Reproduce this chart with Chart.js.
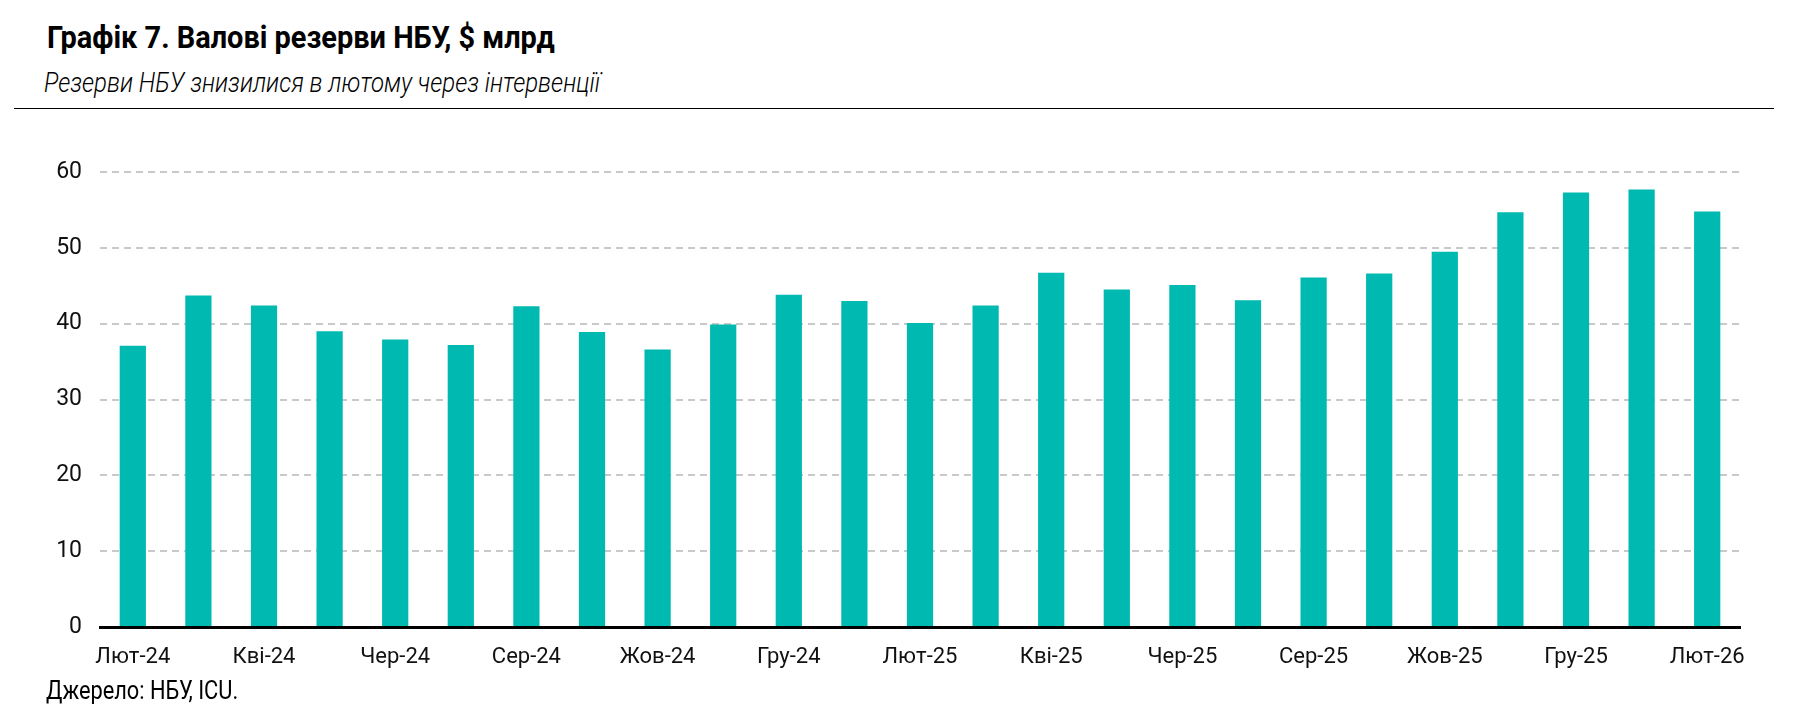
<!DOCTYPE html>
<html>
<head>
  <meta charset="utf-8">
  <title>Графік 7</title>
  <style>
    body { margin: 0; background: #fff; }
    #wrap { position: relative; width: 1814px; height: 727px; overflow: hidden; }
    .txt {
      position: absolute;
      white-space: nowrap;
      line-height: 1;
      color: #000;
      font-family: Roboto, "DejaVu Sans", sans-serif;
      transform-origin: 0 0;
    }
    #title { left: 47px; top: 21px; font-size: 32px; font-weight: bold; }
    #subtitle { left: 44px; top: 70px; font-size: 27px; font-style: italic; font-weight: 300; }
    #rule { position: absolute; left: 14px; top: 108px; width: 1760px; height: 1px; background: #000; }
    #source { left: 46px; top: 677px; font-size: 26px; }
    #chart { position: absolute; left: 0; top: 0; }
  </style>
  <script src="https://cdn.jsdelivr.net/npm/chart.js"></script>
</head>
<body>
  <div id="wrap">
    <div class="txt" id="title" data-w="508">Графік 7. Валові резерви НБУ, $ млрд</div>
    <div class="txt" id="subtitle" data-w="556">Резерви НБУ знизилися в лютому через інтервенції</div>
    <div id="rule"></div>
    <canvas id="chart" width="1814" height="727"></canvas>
    <div class="txt" id="source" data-w="192">Джерело: НБУ, ICU.</div>
  </div>

  <script>
    // місяці, лют-24 .. лют-26
    const months = [
      'Лют-24', 'Бер-24', 'Кві-24', 'Тра-24', 'Чер-24', 'Лип-24', 'Сер-24', 'Вер-24',
      'Жов-24', 'Лис-24', 'Гру-24', 'Січ-25', 'Лют-25', 'Бер-25', 'Кві-25', 'Тра-25',
      'Чер-25', 'Лип-25', 'Сер-25', 'Вер-25', 'Жов-25', 'Лис-25', 'Гру-25', 'Січ-26', 'Лют-26'
    ];
    // валові резерви, $ млрд
    const reserves = [
      37.1, 43.7, 42.4, 39.0, 37.9, 37.2, 42.3, 38.9,
      36.6, 39.9, 43.8, 43.0, 40.1, 42.4, 46.7, 44.5,
      45.1, 43.1, 46.1, 46.6, 49.5, 54.7, 57.3, 57.7, 54.8
    ];
    const yTicks = [0, 10, 20, 30, 40, 50, 60];

    // condensed look: squeeze the html texts to the width they have in the original
    document.querySelectorAll('.txt[data-w]').forEach((el) => {
      const k = parseFloat(el.dataset.w) / el.offsetWidth;
      el.style.transform = 'scaleX(' + k + ')';
    });

    const font = "Roboto, 'DejaVu Sans', sans-serif";

    const ctx = document.getElementById('chart').getContext('2d');
    new Chart(ctx, {
      type: 'bar',
      data: {
        labels: months,
        datasets: [{
          label: 'Резерви',
          data: reserves,
          backgroundColor: '#00B9B0',
          borderWidth: 0,
          barPercentage: 0.4,
          categoryPercentage: 1.0
        }]
      },
      options: {
        responsive: false,
        animation: false,
        layout: { padding: { left: 0, right: 74, top: 172, bottom: 0 } },
        plugins: {
          legend: { display: false },
          tooltip: { enabled: false }
        },
        scales: {
          x: {
            grid: { display: false },
            border: { display: true, color: '#000', width: 3 },
            afterFit: (scale) => { scale.height = 100; },
            ticks: {
              autoSkip: false,
              maxRotation: 0,
              padding: 9,
              color: '#111',
              font: { family: font, size: 22 },
              callback: function (value, index) {
                return index % 2 === 0 ? months[index] : '';
              }
            }
          },
          y: {
            min: 0,
            max: 60,
            afterFit: (scale) => { scale.width = 100; },
            afterBuildTicks: (scale) => { scale.ticks = yTicks.map(v => ({ value: v })); },
            border: { display: false, dash: [7, 5] },
            grid: { color: '#c9c9c9', lineWidth: 2, drawTicks: false },
            ticks: {
              padding: 18,
              color: '#111',
              font: { family: font, size: 23 }
            }
          }
        }
      }
    });
  </script>
</body>
</html>
